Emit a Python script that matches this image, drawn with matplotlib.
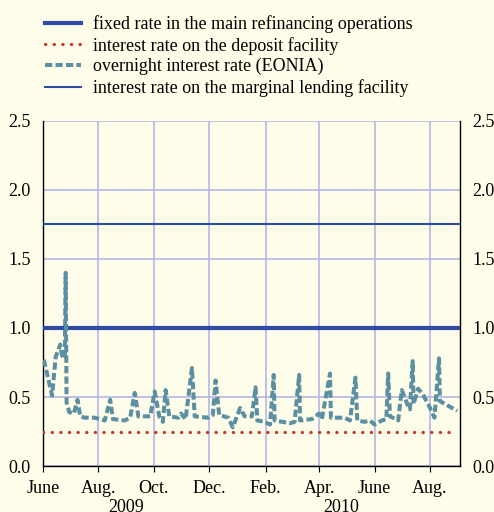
import numpy as np
import pandas as pd
import matplotlib
matplotlib.use("Agg")
import matplotlib.pyplot as plt
from matplotlib.lines import Line2D
from matplotlib.transforms import blended_transform_factory

plt.rcParams['font.family'] = ['Liberation Serif', 'DejaVu Serif']

# key ECB rates (percent)
mro_rate = 1.00
deposit_rate = 0.25
marginal_rate = 1.75

# EONIA
eonia_dates = [
    "2009-06-02", "2009-06-11", "2009-06-15", "2009-06-20", "2009-06-22", "2009-06-25",
    "2009-06-26", "2009-06-27", "2009-06-30", "2009-07-05", "2009-07-09", "2009-07-12",
    "2009-07-17", "2009-07-28", "2009-08-08", "2009-08-14", "2009-08-17", "2009-08-30",
    "2009-09-05", "2009-09-10", "2009-09-14", "2009-09-27", "2009-10-02", "2009-10-07",
    "2009-10-11", "2009-10-14", "2009-10-18", "2009-10-28", "2009-10-31", "2009-11-05",
    "2009-11-12", "2009-11-15", "2009-11-30", "2009-12-05", "2009-12-08", "2009-12-12",
    "2009-12-22", "2009-12-27", "2010-01-04", "2010-01-09", "2010-01-17", "2010-01-21",
    "2010-01-23", "2010-01-31", "2010-02-06", "2010-02-10", "2010-02-11", "2010-02-28",
    "2010-03-05", "2010-03-10", "2010-03-11", "2010-03-24", "2010-04-01", "2010-04-04",
    "2010-04-13", "2010-04-14", "2010-04-29", "2010-05-05", "2010-05-11", "2010-05-13",
    "2010-05-21", "2010-05-27", "2010-06-01", "2010-06-09", "2010-06-14", "2010-06-16",
    "2010-06-18", "2010-06-27", "2010-07-01", "2010-07-07", "2010-07-10", "2010-07-13",
    "2010-07-14", "2010-07-19", "2010-07-24", "2010-07-30", "2010-08-06", "2010-08-11",
    "2010-08-12", "2010-08-20", "2010-08-31",
]
eonia_values = [
    0.77, 0.51, 0.79, 0.88, 0.80, 0.78,
    1.40, 0.46, 0.39, 0.38, 0.48, 0.36,
    0.35, 0.35, 0.33, 0.48, 0.34, 0.33,
    0.35, 0.53, 0.36, 0.36, 0.54, 0.36,
    0.32, 0.55, 0.36, 0.35, 0.38, 0.34,
    0.71, 0.36, 0.35, 0.37, 0.62, 0.37,
    0.35, 0.28, 0.42, 0.36, 0.36, 0.57,
    0.33, 0.32, 0.30, 0.66, 0.33, 0.31,
    0.32, 0.66, 0.33, 0.34, 0.38, 0.34,
    0.67, 0.35, 0.35, 0.33, 0.64, 0.33,
    0.32, 0.33, 0.30, 0.33, 0.34, 0.67,
    0.36, 0.33, 0.55, 0.45, 0.41, 0.76,
    0.45, 0.56, 0.52, 0.45, 0.35, 0.78,
    0.47, 0.44, 0.40,
]

month_ticks = pd.date_range("2009-06-01", "2010-08-01", freq="2MS")
month_labels = ["June", "Aug.", "Oct.", "Dec.", "Feb.", "Apr.", "June", "Aug."]
year_labels = [("2009-09-01", "2009"), ("2010-04-25", "2010")]

bg = "#fefde9"
blue = "#2d4ba6"
red = "#c0392b"
teal = "#5b8fa1"
grid = "#b4b6e4"

fig = plt.figure(figsize=(4.94, 5.12), dpi=100, facecolor=bg)
ax = fig.add_axes([0.087, 0.0898, 0.844, 0.674], facecolor=bg)

x0 = pd.Timestamp("2009-06-01")
x1 = pd.Timestamp("2010-09-03")
xs = [x0, x1]

dot_style = (0, (0.1, 2.6))
dash_style = (0, (1.8, 0.8))

ax.plot(xs, [marginal_rate] * 2, color=blue, lw=1.5, solid_capstyle='butt', zorder=3)
ax.plot(xs, [mro_rate] * 2, color=blue, lw=3.0, solid_capstyle='butt', zorder=3)
ax.plot([x0, pd.Timestamp("2010-08-28")], [deposit_rate] * 2, color=red, lw=2.3,
        linestyle=dot_style, dash_capstyle='round', zorder=3)
ax.plot(pd.to_datetime(eonia_dates), eonia_values, color=teal, lw=2.9,
        linestyle=dash_style, zorder=4)

ax.set_xlim(x0, x1)
ax.set_ylim(0, 2.5)
ax.set_yticks(np.arange(0, 2.51, 0.5))
ax.set_yticklabels(["%.1f" % v for v in np.arange(0, 2.51, 0.5)])
ax.set_xticks(month_ticks)
ax.set_xticklabels(month_labels)

ax.grid(True, color=grid, lw=1.2, zorder=1)
ax.set_axisbelow(True)

ax.spines['top'].set_visible(False)
for s in ['left', 'right', 'bottom']:
    ax.spines[s].set_color('black')
    ax.spines[s].set_linewidth(1.0)

ax.tick_params(axis='y', length=0, labelsize=13, pad=9, labelright=True, right=False)
ax.tick_params(axis='x', length=4, direction='out', labelsize=13, pad=6)

trans = blended_transform_factory(ax.transData, ax.transAxes)
for d, lab in year_labels:
    ax.text(pd.Timestamp(d), -0.097, lab, transform=trans, ha='center', va='top', fontsize=13)

handles = [
    Line2D([], [], color=blue, lw=3.0),
    Line2D([], [], color=red, lw=2.3, linestyle=dot_style, dash_capstyle='round'),
    Line2D([], [], color=teal, lw=2.9, linestyle=dash_style),
    Line2D([], [], color=blue, lw=1.5),
]
labels = [
    "fixed rate in the main refinancing operations",
    "interest rate on the deposit facility",
    "overnight interest rate (EONIA)",
    "interest rate on the marginal lending facility",
]
fig.legend(handles, labels, loc='upper left', bbox_to_anchor=(0.065, 0.995), frameon=False,
           fontsize=13, handlelength=2.0, handletextpad=0.7, labelspacing=0.2,
           borderaxespad=0.3)

fig.savefig("out.png", dpi=100, facecolor=bg)
